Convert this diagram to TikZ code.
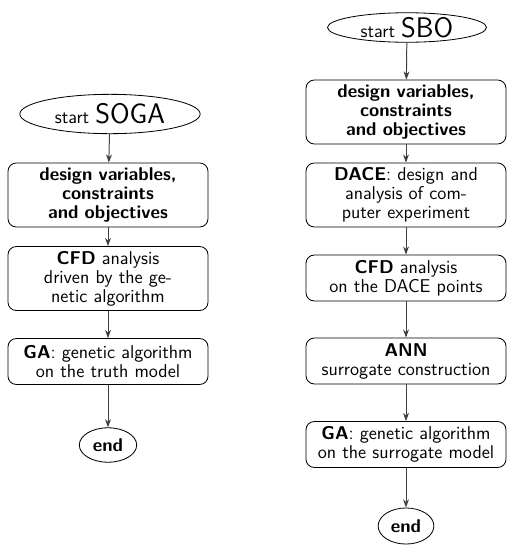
\documentclass[tikz,border=0pt]{standalone}
\usetikzlibrary{shapes.geometric,arrows.meta}
\renewcommand\familydefault{\sfdefault}
\begin{document}
\begin{tikzpicture}[x=0.61pt,y=-0.61pt,
  every node/.style={font=\fontsize{11.3}{11.6}\selectfont},
  stepbox/.style={draw,rounded corners=5pt,align=center,minimum width=122pt,text width=118pt,inner sep=0pt,line width=0.5pt},
  tall/.style={minimum height=39pt},
  short/.style={minimum height=28pt},
  term/.style={draw,ellipse,inner sep=0pt,line width=0.5pt},
  arr/.style={-{Stealth[length=5pt,width=3.6pt]},draw=black!75,line width=0.6pt}]
\useasboundingbox (0,0) rectangle (506,545);
% left column
\node[term,minimum width=110pt,minimum height=24pt] (sL) at (110,114) {start {\LARGE SOGA}};
\node[stepbox,tall] (L1) at (108,195) {\textbf{design variables,}\\\textbf{constraints}\\\textbf{and objectives}};
\node[stepbox,tall] (L2) at (108,278.5) {\textbf{CFD} analysis\\driven by the ge-\\netic algorithm};
\node[stepbox,short] (L3) at (108,361.5) {\textbf{GA}: genetic algorithm\\on the truth model};
\node[term,minimum width=35pt,minimum height=21pt] (eL) at (108,445) {\textbf{end}};
% right column
\node[term,minimum width=97pt,minimum height=18pt] (sR) at (407,27.5) {start {\LARGE SBO}};
\node[stepbox,tall] (R1) at (406,112) {\textbf{design variables,}\\\textbf{constraints}\\\textbf{and objectives}};
\node[stepbox,tall] (R2) at (406,195) {\textbf{DACE}: design and\\analysis of com-\\puter experiment};
\node[stepbox,short] (R3) at (406,278) {\textbf{CFD} analysis\\on the DACE points};
\node[stepbox,short] (R4) at (406,361) {\textbf{ANN}\\surrogate construction};
\node[stepbox,short] (R5) at (406,444.5) {\textbf{GA}: genetic algorithm\\on the surrogate model};
\node[term,minimum width=34pt,minimum height=22pt] (eR) at (406,526) {\textbf{end}};
% connectors
\draw[arr] (sL) -- (L1);
\draw[arr] (L1) -- (L2);
\draw[arr] (L2) -- (L3);
\draw[arr] (L3) -- (eL);
\draw[arr] (sR) -- (R1);
\draw[arr] (R1) -- (R2);
\draw[arr] (R2) -- (R3);
\draw[arr] (R3) -- (R4);
\draw[arr] (R4) -- (R5);
\draw[arr] (R5) -- (eR);
\end{tikzpicture}
\end{document}
